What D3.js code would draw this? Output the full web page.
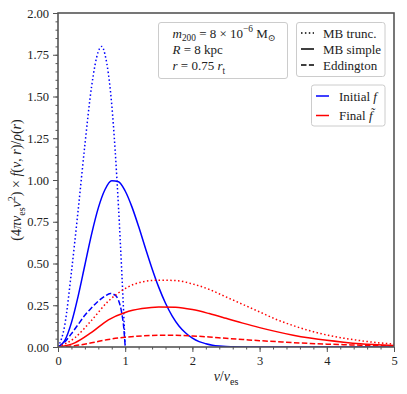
<!DOCTYPE html>
<html>
<head>
<meta charset="utf-8">
<script src="https://cdn.jsdelivr.net/npm/d3@7"></script>
<style>
  body { margin: 0; background: #fff; }
  text { font-family: "Liberation Serif", "DejaVu Serif", serif; fill: #222; }
</style>
</head>
<body>
<div id="chart"></div>
<script>
// velocities v / v_es for each sampled curve
const vTrunc = [0, 0.1, 0.2, 0.3, 0.4, 0.5, 0.6, 0.65, 0.7, 0.8, 0.9, 0.95, 0.98, 1.0];
const vEdd = [0, 0.1, 0.2, 0.3, 0.4, 0.5, 0.6, 0.7, 0.78, 0.85, 0.9, 0.95, 0.98, 1.0];
const vSimple = [0, 0.1, 0.2, 0.3, 0.4, 0.5, 0.6, 0.7, 0.8, 0.9, 1.0, 1.1, 1.2, 1.3, 1.4, 1.5,
  1.6, 1.7, 1.8, 1.9, 2.0, 2.1, 2.2, 2.3, 2.4, 2.5, 2.6, 2.8, 3.0, 4.0, 5.0];
const vFinal = [0, 0.25, 0.5, 0.75, 1.0, 1.25, 1.5, 1.75, 2.0, 2.25, 2.5, 2.75, 3.0, 3.25, 3.5,
  3.75, 4.0, 4.25, 4.5, 4.75, 5.0];

// initial f (blue)
const initTrunc = [0, 0.13, 0.45, 0.82, 1.21, 1.56, 1.77, 1.80, 1.75, 1.45, 0.84, 0.44, 0.18, 0];
const initSimple = [0, 0.038, 0.146, 0.305, 0.491, 0.676, 0.833, 0.943, 0.995, 0.99, 0.934, 0.839,
  0.721, 0.593, 0.469, 0.357, 0.262, 0.185, 0.126, 0.084, 0.053, 0.032, 0.02, 0.011, 0.006, 0.003,
  0.002, 0.0005, 0, 0, 0];
const initEdd = [0, 0.03, 0.08, 0.135, 0.19, 0.235, 0.275, 0.305, 0.32, 0.31, 0.28, 0.20, 0.11, 0];

// final f~ (red)
const finalTrunc = [0, 0.055, 0.16, 0.275, 0.35, 0.39, 0.40, 0.398, 0.378, 0.345, 0.30, 0.255, 0.21,
  0.165, 0.128, 0.097, 0.072, 0.053, 0.038, 0.026, 0.017];
const finalSimple = [0, 0.025, 0.088, 0.163, 0.207, 0.23, 0.24, 0.238, 0.224, 0.2, 0.172, 0.143, 0.116,
  0.092, 0.071, 0.054, 0.04, 0.029, 0.02, 0.014, 0.009];
const finalEdd = [0, 0.008, 0.025, 0.045, 0.058, 0.066, 0.07, 0.07, 0.066, 0.06, 0.052, 0.045, 0.038,
  0.032, 0.026, 0.021, 0.017, 0.014, 0.011, 0.009, 0.007];

const xTicks = [0, 1, 2, 3, 4, 5];
const yTicks = [0, 0.25, 0.5, 0.75, 1.0, 1.25, 1.5, 1.75, 2.0];

const width = 407;
const height = 394;
const margin = { top: 13, right: 13, bottom: 47, left: 58 };
const w = width - margin.left - margin.right;
const h = height - margin.top - margin.bottom;
const axisColor = '#555';

const dash = { dotted: '1.5,2.4', solid: null, dashed: '5.5,2.4' };

const series = [
  { v: vTrunc, y: initTrunc, color: '#0000ff', style: 'dotted' },
  { v: vSimple, y: initSimple, color: '#0000ff', style: 'solid' },
  { v: vEdd, y: initEdd, color: '#0000ff', style: 'dashed' },
  { v: vFinal, y: finalTrunc, color: '#ff0000', style: 'dotted' },
  { v: vFinal, y: finalSimple, color: '#ff0000', style: 'solid' },
  { v: vFinal, y: finalEdd, color: '#ff0000', style: 'dashed' },
];

const svg = d3.select('#chart').append('svg')
  .attr('width', width)
  .attr('height', height);

const g = svg.append('g')
  .attr('transform', `translate(${margin.left},${margin.top})`);

const x = d3.scaleLinear().domain([0, 5]).range([0, w]);
const y = d3.scaleLinear().domain([0, 2]).range([h, 0]);

// clip to plot area
svg.append('defs').append('clipPath').attr('id', 'clip')
  .append('rect').attr('width', w).attr('height', h);

const line = d3.line()
  .x((d) => x(d[0]))
  .y((d) => y(d[1]))
  .curve(d3.curveMonotoneX);

const plot = g.append('g').attr('clip-path', 'url(#clip)');
plot.selectAll('path')
  .data(series)
  .enter()
  .append('path')
  .attr('fill', 'none')
  .attr('stroke', (d) => d.color)
  .attr('stroke-width', 1.5)
  .attr('stroke-dasharray', (d) => dash[d.style])
  .attr('d', (d) => line(d.v.map((v, i) => [v, d.y[i]])));

function styleAxis(sel) {
  sel.select('.domain').remove();
  sel.selectAll('line').attr('stroke', axisColor).attr('stroke-width', 1);
  sel.selectAll('text')
    .style('font-size', '12.5px')
    .style('font-family', '"Liberation Serif", serif')
    .attr('fill', '#222');
}

// axes: minor ticks
g.append('g')
  .attr('transform', `translate(0,${h})`)
  .call(d3.axisBottom(x).tickValues(d3.range(0, 5.01, 0.2)).tickSize(2.5).tickFormat(''))
  .call(styleAxis);
g.append('g')
  .call(d3.axisLeft(y).tickValues(d3.range(0, 2.001, 0.05)).tickSize(2.5).tickFormat(''))
  .call(styleAxis);

// axes: major ticks
g.append('g')
  .attr('transform', `translate(0,${h})`)
  .call(d3.axisBottom(x).tickValues(xTicks).tickSize(5).tickPadding(4).tickFormat(d3.format('d')))
  .call(styleAxis);
g.append('g')
  .call(d3.axisLeft(y).tickValues(yTicks).tickSize(5).tickPadding(4).tickFormat(d3.format('.2f')))
  .call(styleAxis);

// frame
g.append('rect')
  .attr('width', w)
  .attr('height', h)
  .attr('fill', 'none')
  .attr('stroke', axisColor)
  .attr('stroke-width', 1.6);

// rich text helper: segs = [{t, i, sub, sup}]
function richText(parent, tx, ty, segs, size, anchor) {
  const t = parent.append('text')
    .attr('x', tx)
    .attr('y', ty)
    .attr('text-anchor', anchor || 'start')
    .style('font-size', `${size}px`);
  let cur = 0;
  segs.forEach((s) => {
    const shift = s.sub ? size * 0.28 : s.sup ? -size * 0.4 : 0;
    t.append('tspan')
      .attr('dy', shift - cur)
      .style('font-style', s.i ? 'italic' : 'normal')
      .style('font-size', s.sub || s.sup ? `${size * 0.72}px` : null)
      .text(s.t);
    cur = shift;
  });
  return t;
}

// axis labels
richText(svg, margin.left + w / 2, 381, [
  { t: 'v', i: true }, { t: '/' }, { t: 'v', i: true }, { t: 'es', sub: true },
], 14, 'middle');

richText(svg, 0, 0, [
  { t: '(4' }, { t: 'π', i: true }, { t: 'v', i: true }, { t: 'es', sub: true },
  { t: 'v', i: true }, { t: '2', sup: true }, { t: ') × ' }, { t: 'f', i: true },
  { t: '(' }, { t: 'v', i: true }, { t: ', ' }, { t: 'r', i: true }, { t: ')/' },
  { t: 'ρ', i: true }, { t: '(' }, { t: 'r', i: true }, { t: ')' },
], 14, 'middle')
  .attr('transform', `translate(21,${margin.top + h / 2}) rotate(-90)`);

// legend boxes
function box(bx, by, bw, bh) {
  svg.append('rect')
    .attr('x', bx).attr('y', by)
    .attr('width', bw).attr('height', bh)
    .attr('rx', 2.5)
    .attr('fill', '#fff')
    .attr('fill-opacity', 0.85)
    .attr('stroke', '#ccc')
    .attr('stroke-width', 1);
}

// parameters box
box(158.5, 22.5, 129, 56);
richText(svg, 172.5, 37.5, [
  { t: 'm', i: true }, { t: '200', sub: true }, { t: ' = 8 × 10' }, { t: '−6', sup: true },
  { t: ' M' }, { t: '⊙', sub: true },
], 13);
richText(svg, 172.5, 54, [{ t: 'R', i: true }, { t: ' = 8 kpc' }], 13);
richText(svg, 172.5, 70, [
  { t: 'r', i: true }, { t: ' = 0.75 ' }, { t: 'r', i: true }, { t: 't', sub: true },
], 13);

// line style legend
const styleLegend = [
  { label: 'MB trunc.', style: 'dotted' },
  { label: 'MB simple', style: 'solid' },
  { label: 'Eddington', style: 'dashed' },
];
box(296.5, 22.5, 88.5, 54);
styleLegend.forEach((d, i) => {
  const cy = 33 + i * 16;
  svg.append('line')
    .attr('x1', 301).attr('x2', 314)
    .attr('y1', cy).attr('y2', cy)
    .attr('stroke', '#000')
    .attr('stroke-width', 1.5)
    .attr('stroke-dasharray', dash[d.style]);
  richText(svg, 323, cy + 4.5, [{ t: d.label }], 13);
});

// colour legend
const colorLegend = [
  { segs: [{ t: 'Initial ' }, { t: 'f', i: true }], color: '#0000ff' },
  { segs: [{ t: 'Final ' }, { t: 'f\u0303', i: true }], color: '#ff0000' },
];
box(311.5, 85, 73.5, 41);
colorLegend.forEach((d, i) => {
  const cy = 96 + i * 19.5;
  svg.append('line')
    .attr('x1', 316).attr('x2', 329)
    .attr('y1', cy).attr('y2', cy)
    .attr('stroke', d.color)
    .attr('stroke-width', 1.5);
  richText(svg, 339, cy + 4.5, d.segs, 13);
});
</script>
</body>
</html>
